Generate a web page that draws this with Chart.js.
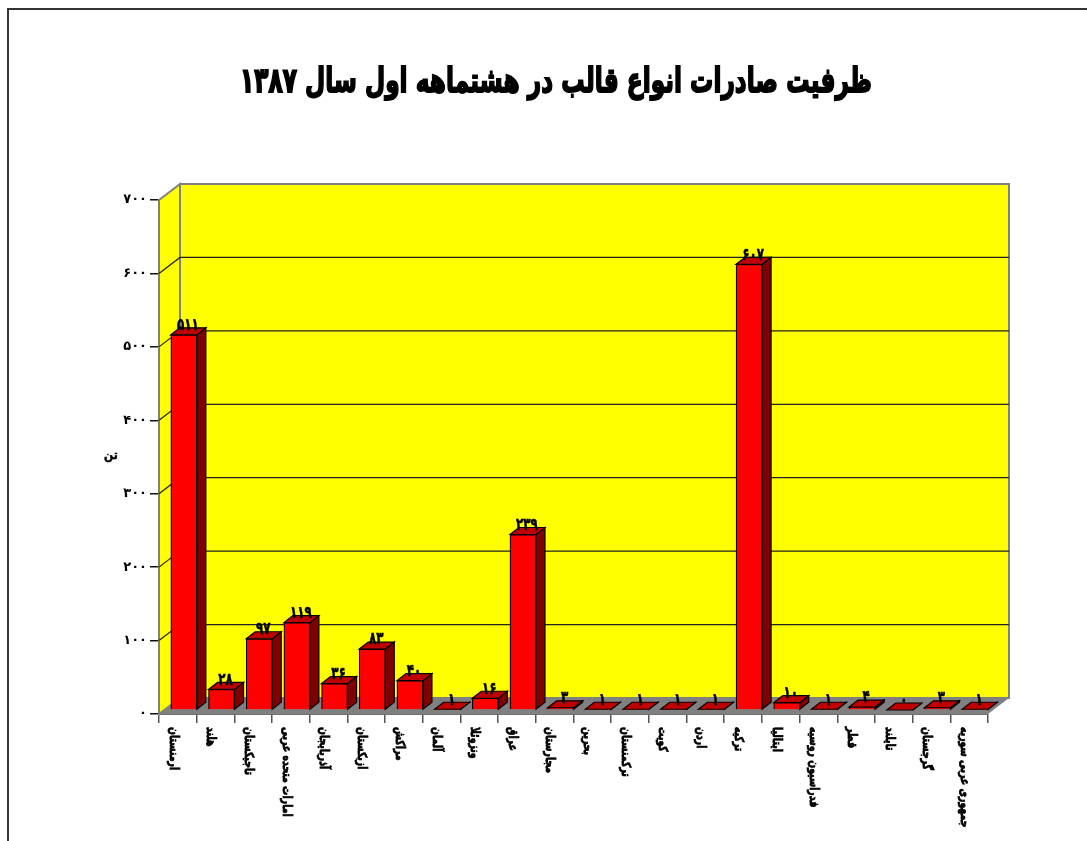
<!DOCTYPE html>
<html lang="fa">
<head>
<meta charset="utf-8">
<title>ظرفیت صادرات</title>
<style>
    body { margin: 0; background: #fff; }
    canvas { display: block; }
</style>
</head>
<body>
<canvas id="exportChart" width="1087" height="841"></canvas>
<script src="https://cdn.jsdelivr.net/npm/chart.js@4/dist/chart.umd.js"></script>
<script>
const chartTitle = 'ظرفیت صادرات انواع قالب در هشتماهه اول سال ۱۳۸۷';
const yAxisTitle = 'تن';
const countries = ['ارمنستان', 'هلند', 'تاجیکستان', 'امارات متحده عربی', 'آذربایجان', 'ازبکستان', 'مراکش', 'آلمان', 'ونزوئلا', 'عراق', 'مجارستان', 'بحرین', 'ترکمنستان', 'کویت', 'اردن', 'ترکیه', 'ایتالیا', 'فدراسیون روسیه', 'قطر', 'تایلند', 'گرجستان', 'جمهوری عربی سوریه'];
const tons = [511, 28, 97, 119, 36, 83, 40, 1, 16, 239, 3, 1, 1, 1, 1, 607, 10, 1, 4, 0, 3, 1];

const FONT = '"DejaVu Sans", sans-serif';
const WALL = { dx: 21, dy: -16 };
const BAR = { shiftX: 6, shiftY: -4, dx: 9, dy: -7 };

function toPersian(n) {
    return String(n).replace(/\d/g, d => '۰۱۲۳۴۵۶۷۸۹'[d]);
}

function poly(ctx, pts, fill, stroke, lw) {
    ctx.beginPath();
    pts.forEach((p, i) => i ? ctx.lineTo(p[0], p[1]) : ctx.moveTo(p[0], p[1]));
    ctx.closePath();
    ctx.fillStyle = fill;
    ctx.fill();
    if (stroke) {
        ctx.strokeStyle = stroke;
        ctx.lineWidth = lw || 1;
        ctx.stroke();
    }
}

// squeezed, slightly thickened text, the original face is tall and narrow
function heavyText(ctx, text, x, y, squeeze, rotate, weight) {
    ctx.save();
    ctx.translate(x, y);
    if (rotate) ctx.rotate(Math.PI / 2);
    ctx.scale(squeeze, 1);
    ctx.lineWidth = weight;
    ctx.strokeStyle = '#000';
    ctx.strokeText(text, 0, 0);
    ctx.fillText(text, 0, 0);
    ctx.restore();
}

const wallsPlugin = {
    id: 'walls',
    afterLayout(chart) {
        // title sits over the whole picture, not the plot, and is fitted to this width
        chart.titleBlock.left = 240;
        chart.titleBlock.right = 872;
    },
    beforeDatasetsDraw(chart) {
        const { ctx, chartArea: a, scales: { y } } = chart;
        const { dx, dy } = WALL;
        ctx.save();
        ctx.strokeStyle = '#333';
        ctx.lineWidth = 2;
        ctx.strokeRect(8, 9, 1200, 900);

        poly(ctx, [[a.left + dx, a.top + dy], [a.right + dx, a.top + dy], [a.right + dx, a.bottom + dy], [a.left + dx, a.bottom + dy]], '#ffff00', '#808080', 2);
        poly(ctx, [[a.left, a.top], [a.left + dx, a.top + dy], [a.left + dx, a.bottom + dy], [a.left, a.bottom]], '#ffff00', '#808080', 2);
        poly(ctx, [[a.left, a.bottom], [a.right, a.bottom], [a.right + dx, a.bottom + dy], [a.left + dx, a.bottom + dy]], '#808080');

        ctx.strokeStyle = '#222';
        ctx.lineWidth = 1.2;
        y.ticks.forEach(t => {
            if (t.value === 0 || t.value === y.max) return;
            const py = y.getPixelForValue(t.value);
            ctx.beginPath();
            ctx.moveTo(a.left, py);
            ctx.lineTo(a.left + dx, py + dy);
            ctx.lineTo(a.right + dx, py + dy);
            ctx.stroke();
        });
        ctx.restore();
    },
    beforeDatasetDraw(chart) {
        const { ctx } = chart;
        ctx.save();
        ctx.translate(BAR.shiftX, BAR.shiftY);
        chart.getDatasetMeta(0).data.forEach(bar => {
            const { x, y, base, width } = bar.getProps(['x', 'y', 'base', 'width'], true);
            const l = x - width / 2, r = x + width / 2;
            const { dx, dy } = BAR;
            poly(ctx, [[r, y], [r + dx, y + dy], [r + dx, base + dy], [r, base]], '#800000', '#000', 1.2);
            poly(ctx, [[l, y], [l + dx, y + dy], [r + dx, y + dy], [r, y]], '#c00000', '#000', 1.2);
        });
    },
    afterDatasetDraw(chart) {
        chart.ctx.restore();
    },
    afterDatasetsDraw(chart) {
        const { ctx, scales: { x } } = chart;
        ctx.save();
        ctx.fillStyle = '#000';
        ctx.textBaseline = 'middle';

        // values over the bars
        ctx.font = 'bold 17px ' + FONT;
        ctx.textAlign = 'center';
        chart.getDatasetMeta(0).data.forEach((bar, i) => {
            const p = bar.getProps(['x', 'y'], true);
            heavyText(ctx, toPersian(tons[i]), p.x + BAR.shiftX + 4, p.y - 13, 0.7, false, 0.5);
        });

        // axis unit stays upright in the original
        ctx.font = 'bold 12px ' + FONT;
        heavyText(ctx, yAxisTitle, 111, 456, 0.9, false, 0.5);

        // country names read downwards, so they are turned by hand
        ctx.font = 'bold 12.5px ' + FONT;
        ctx.textAlign = 'left';
        countries.forEach((name, i) => {
            heavyText(ctx, name, x.getPixelForTick(i) - 5, 727, 0.75, true, 0.8);
        });

        // thicken the title drawn by the library
        const t = chart.titleBlock;
        ctx.font = 'bold 34px ' + FONT;
        ctx.textAlign = 'center';
        ctx.lineWidth = 1.8;
        ctx.strokeStyle = '#000';
        ctx.strokeText(chartTitle, (t.left + t.right) / 2, t.top + 63 + 20.4, t.right - t.left);
        ctx.restore();
    }
};

new Chart(document.getElementById('exportChart'), {
    type: 'bar',
    data: {
        labels: countries,
        datasets: [{
            data: tons,
            backgroundColor: '#ff0000',
            borderColor: '#000',
            borderWidth: 1.2,
            barThickness: 26,
            clip: false
        }]
    },
    options: {
        responsive: false,
        animation: false,
        layout: { padding: { left: 26, right: 99, top: 0, bottom: 0 } },
        plugins: {
            legend: { display: false },
            tooltip: { enabled: false },
            title: {
                display: true,
                text: chartTitle,
                color: '#000',
                font: { family: FONT, size: 34, weight: 'bold', lineHeight: 1.2 },
                padding: { top: 63, bottom: 96.2 }
            }
        },
        scales: {
            x: {
                grid: { drawOnChartArea: false, drawTicks: true, tickLength: 9, color: '#555', lineWidth: 1.5 },
                border: { color: '#707070', width: 2 },
                ticks: { display: false },
                afterFit(s) { s.height = 127; }
            },
            y: {
                min: 0,
                max: 700,
                grid: { drawOnChartArea: false, drawTicks: true, tickLength: 9, color: '#111', lineWidth: 1.5 },
                border: { color: '#707070', width: 2 },
                ticks: {
                    stepSize: 100,
                    color: '#000',
                    padding: 3,
                    font: { family: FONT, size: 13, weight: 'bold' },
                    callback: v => toPersian(v)
                },
                afterFit(s) { s.width = 133; }
            }
        }
    },
    plugins: [wallsPlugin]
});
</script>
</body>
</html>
